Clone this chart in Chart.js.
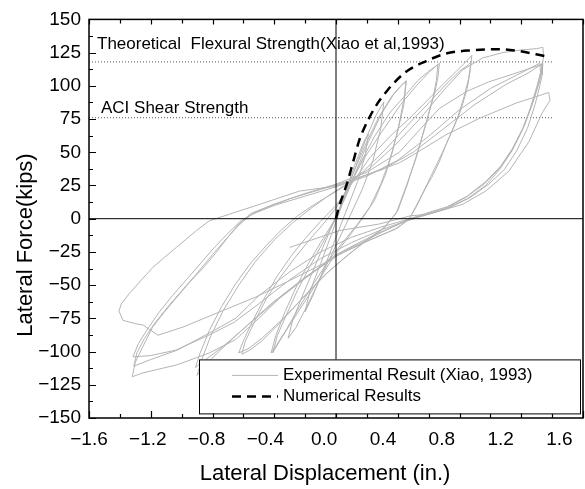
<!DOCTYPE html>
<html lang="en">
<head>
<meta charset="UTF-8" />
<title>Lateral Force vs Lateral Displacement</title>
<script src="https://cdn.jsdelivr.net/npm/chart.js@4"></script>
<style>
  body { margin: 0; background: #ffffff; }
  #chart { display: block; }
</style>
</head>
<body>
<canvas id="chart" width="585" height="489"></canvas>
<script>
  // ---- axis ticks ----
  const xTicks = [-1.6, -1.2, -0.8, -0.4, 0.0, 0.4, 0.8, 1.2, 1.6];
  const yTicks = [-150, -125, -100, -75, -50, -25, 0, 25, 50, 75, 100, 125, 150];

  // ---- strength reference lines (kips) ----
  const flexuralStrength = 118;
  const shearStrength = 76;
  const refLineDisp = [-1.6, 1.4];

  // ---- numerical results (dashed backbone) ----
  const numDisp = [0, 0.012, 0.076, 0.109, 0.152, 0.173, 0.249, 0.335, 0.454, 0.584, 0.713, 0.885, 1.037, 1.188, 1.35];
  const numForce = [0, 5.8, 28.3, 42, 59.5, 65.7, 83.1, 96.9, 110.6, 118.6, 124.3, 126.8, 127.6, 126.1, 122.5];

  // ---- experimental hysteresis (Xiao, 1993), [displacement, force] ----
  const cyclesSmall = [
    [0, 0], [0.06, 20], [0.12, 40], [0.18, 58], [0.21, 64],
    [0.19, 48], [0.14, 28], [0.08, 10], [0, -14], [-0.08, -38], [-0.15, -58], [-0.2, -70],
    [-0.17, -55], [-0.1, -34], [-0.03, -12], [0.05, 14], [0.13, 40], [0.2, 62], [0.26, 78], [0.31, 88],
    [0.29, 68], [0.24, 44], [0.17, 22], [0.09, 2], [0, -20], [-0.09, -42], [-0.18, -64], [-0.26, -82], [-0.31, -90],
    [-0.28, -76], [-0.21, -56], [-0.13, -34], [-0.05, -12], [0.03, 10], [0.11, 34], [0.2, 58], [0.28, 77], [0.36, 92], [0.42, 100], [0.455, 104]
  ];
  const cyclesA = [
    [0.44, 90], [0.41, 72], [0.37, 52], [0.32, 33], [0.25, 14], [0.17, 0], [0.08, -14], [0, -26], [-0.1, -44], [-0.2, -62], [-0.3, -80], [-0.37, -93], [-0.41, -101],
    [-0.38, -88], [-0.32, -72], [-0.25, -54], [-0.17, -36], [-0.09, -19], [-0.01, -2], [0.06, 16], [0.13, 36], [0.21, 58], [0.29, 78], [0.37, 93], [0.43, 101], [0.455, 103],
    [0.44, 86], [0.4, 66], [0.35, 45], [0.29, 26], [0.22, 9], [0.14, -4], [0.05, -17], [-0.04, -30], [-0.14, -48], [-0.24, -67], [-0.33, -85], [-0.39, -96], [-0.42, -101],
    [-0.39, -88], [-0.33, -70], [-0.26, -52], [-0.18, -34], [-0.1, -18], [-0.02, -3], [0.06, 16], [0.15, 40], [0.25, 62], [0.35, 80], [0.45, 93], [0.53, 104], [0.6, 111], [0.65, 115], [0.67, 117]
  ];
  const cyclesB = [
    [0.66, 106], [0.64, 95], [0.58, 71], [0.52, 46], [0.45, 23], [0.39, 4], [0.3, -8], [0.18, -18], [0.05, -30], [-0.08, -43], [-0.22, -60], [-0.36, -78], [-0.48, -92], [-0.56, -99], [-0.61, -102],
    [-0.59, -93], [-0.53, -78], [-0.45, -60], [-0.36, -44], [-0.27, -30], [-0.18, -17], [-0.09, -5], [0, 8], [0.08, 24], [0.18, 45], [0.3, 66], [0.42, 86], [0.52, 100], [0.6, 110], [0.66, 116],
    [0.65, 104], [0.63, 92], [0.58, 70], [0.52, 47], [0.46, 25], [0.4, 6], [0.32, -6], [0.2, -16], [0.08, -27], [-0.05, -40], [-0.2, -58], [-0.35, -76], [-0.48, -90], [-0.57, -98], [-0.63, -101],
    [-0.6, -92], [-0.54, -77], [-0.46, -59], [-0.38, -43], [-0.29, -28], [-0.2, -15], [-0.1, -2], [0, 10], [0.1, 26], [0.22, 46], [0.35, 62], [0.48, 76], [0.6, 90], [0.7, 102], [0.78, 111], [0.84, 118], [0.88, 123]
  ];
  const cyclesC = [
    [0.87, 112], [0.85, 98], [0.81, 82], [0.76, 68], [0.71, 55], [0.67, 43], [0.62, 31], [0.58, 23], [0.52, 9], [0.47, -1], [0.38, -8], [0.2, -17], [0, -28], [-0.2, -45], [-0.4, -63], [-0.58, -81], [-0.72, -95], [-0.82, -104], [-0.88, -109], [-0.91, -112],
    [-0.88, -101], [-0.82, -84], [-0.74, -66], [-0.65, -49], [-0.55, -33], [-0.45, -20], [-0.35, -8], [-0.25, 2], [-0.15, 10], [-0.05, 17], [0.05, 24], [0.18, 36], [0.32, 52], [0.46, 70], [0.6, 87], [0.72, 102], [0.8, 111], [0.86, 116], [0.875, 118],
    [0.86, 106], [0.83, 92], [0.79, 77], [0.74, 63], [0.69, 50], [0.64, 38], [0.59, 26], [0.53, 12], [0.48, 1], [0.4, -7], [0.22, -16], [0.02, -27], [-0.2, -44], [-0.42, -64], [-0.62, -85], [-0.76, -100], [-0.86, -112], [-0.9, -118],
    [-0.87, -106], [-0.81, -88], [-0.73, -69], [-0.63, -50], [-0.52, -32], [-0.4, -16], [-0.28, -3], [-0.16, 8], [-0.04, 18], [0.08, 27], [0.22, 38], [0.38, 55], [0.55, 76], [0.7, 97], [0.82, 112], [0.95, 121], [1.08, 125], [1.2, 127], [1.3, 128], [1.34, 129]
  ];
  const cyclesD = [
    [1.345, 122], [1.33, 112], [1.3, 99], [1.25, 80], [1.2, 65], [1.14, 51], [1.06, 37], [0.97, 25], [0.85, 15], [0.7, 7], [0.56, 2], [0.45, -2], [0.25, -12], [0.05, -24], [-0.15, -40], [-0.35, -58], [-0.5, -75], [-0.65, -91], [-0.82, -101], [-1.03, -110], [-1.25, -116], [-1.32, -119],
    [-1.3, -108], [-1.25, -96], [-1.19, -82], [-1.11, -70], [-1.03, -59], [-0.95, -48], [-0.86, -37], [-0.78, -26], [-0.7, -14], [-0.63, -4], [-0.55, 4], [-0.4, 11], [-0.2, 19], [0, 26], [0.2, 35], [0.41, 50], [0.55, 68], [0.67, 83], [0.85, 96], [0.99, 103], [1.15, 109], [1.33, 116],
    [1.335, 112], [1.32, 104], [1.28, 89], [1.22, 70], [1.15, 54], [1.07, 40], [0.97, 28], [0.85, 17], [0.72, 9], [0.58, 4], [0.48, 0], [0.3, -6], [0.1, -14], [-0.1, -25], [-0.3, -40], [-0.5, -58], [-0.65, -75], [-0.82, -86], [-1.03, -99], [-1.2, -106], [-1.31, -111],
    [-1.29, -101], [-1.24, -90], [-1.17, -78], [-1.08, -65], [-0.99, -53], [-0.9, -41], [-0.8, -27], [-0.71, -15], [-0.63, -5], [-0.55, 3], [-0.4, 10], [-0.2, 17], [0, 24], [0.2, 32], [0.4, 44], [0.6, 62], [0.8, 82], [1.0, 98], [1.17, 108], [1.32, 117],
    [1.325, 110], [1.31, 101], [1.27, 86], [1.21, 68], [1.14, 52], [1.06, 38], [0.96, 26], [0.84, 16], [0.71, 8], [0.57, 3], [0.47, -1], [0.3, -8], [0.1, -18], [-0.1, -30], [-0.3, -46], [-0.5, -64], [-0.66, -78], [-0.83, -88], [-1.04, -99], [-1.2, -103], [-1.315, -104],
    [-1.28, -94], [-1.22, -83], [-1.15, -71], [-1.06, -58], [-0.97, -46], [-0.88, -34], [-0.79, -22], [-0.7, -11], [-0.62, -2], [-0.5, 6], [-0.3, 15], [-0.1, 22], [0.1, 29], [0.3, 37], [0.5, 50], [0.7, 68], [0.9, 86], [1.1, 101], [1.25, 110], [1.34, 117]
  ];
  const cyclesE = [
    [1.335, 108], [1.32, 100], [1.29, 86], [1.24, 68], [1.17, 51], [1.09, 37], [0.99, 26], [0.87, 16], [0.73, 8], [0.59, 3], [0.48, 0], [0.3, -10], [0.15, -19], [0, -27], [-0.085, -34], [-0.3, -46.5], [-0.52, -59], [-0.73, -69], [-0.99, -81.5], [-1.153, -87.7], [-1.25, -80], [-1.3, -79], [-1.38, -76.5], [-1.406, -69.5],
    [-1.39, -64], [-1.34, -56.5], [-1.26, -46], [-1.186, -36.6], [-1.11, -29], [-1.034, -21.6], [-0.905, -9], [-0.82, -1.6], [-0.69, 3.4], [-0.495, 10.8], [-0.236, 20.8], [0, 24.5], [0.195, 33], [0.41, 42], [0.5, 48], [0.71, 63], [0.93, 75.6], [1.166, 87], [1.3, 92], [1.378, 95],
    [1.386, 89], [1.34, 80.6], [1.3, 70.7], [1.25, 58], [1.12, 35.8], [0.97, 20.8], [0.82, 10.8], [0.6, 3.4], [0.48, 2.1], [0.28, -4], [0.02, -9], [-0.3, -21.6]
  ];

  const legendLabels = ["Experimental Result (Xiao, 1993)", "Numerical Results"];
  const flexuralLabel = "Theoretical  Flexural Strength(Xiao et al,1993)";
  const shearLabel = "ACI Shear Strength";
  const xTitle = "Lateral Displacement (in.)";
  const yTitle = "Lateral Force(kips)";

  const GRAY = "rgb(180,180,180)";
  const FONT = "'Liberation Sans', Arial, sans-serif";
  const minus = (s) => s.replace("-", "\u2212");

  const expPoints = [cyclesSmall, cyclesA, cyclesB, cyclesC, cyclesD, cyclesE]
    .flat()
    .map(([x, y]) => ({ x, y }));
  const numPoints = numDisp.map((x, i) => ({ x, y: numForce[i] }));

  // extra drawing: frame, inward ticks, x labels, titles, notes, legend
  const figurePlugin = {
    id: "figureDecor",
    afterDraw(chart) {
      const { ctx, chartArea: a, scales } = chart;
      const x = scales.x, y = scales.y;
      ctx.save();

      // inward tick marks
      ctx.strokeStyle = "#000";
      ctx.lineWidth = 1.2;
      ctx.beginPath();
      xTicks.forEach((v, i) => {
        const px = Math.round(x.getPixelForValue(v)) + 0.5;
        ctx.moveTo(px, a.bottom); ctx.lineTo(px, a.bottom - 7);
        ctx.moveTo(px, a.top); ctx.lineTo(px, a.top + 5);
        if (i < xTicks.length - 1) {
          const m = Math.round(x.getPixelForValue((v + xTicks[i + 1]) / 2)) + 0.5;
          ctx.moveTo(m, a.bottom); ctx.lineTo(m, a.bottom - 4);
          ctx.moveTo(m, a.top); ctx.lineTo(m, a.top + 4);
        }
      });
      yTicks.forEach((v, i) => {
        const py = Math.round(y.getPixelForValue(v)) + 0.5;
        ctx.moveTo(a.left, py); ctx.lineTo(a.left + 7, py);
        if (i < yTicks.length - 1) {
          const m = Math.round(y.getPixelForValue((v + yTicks[i + 1]) / 2)) + 0.5;
          ctx.moveTo(a.left, m); ctx.lineTo(a.left + 4, m);
        }
      });
      ctx.stroke();

      // frame
      ctx.lineWidth = 1.5;
      ctx.strokeRect(a.left, a.top, a.right - a.left, a.bottom - a.top);

      // x tick labels (in the source figure they drift slightly left of their ticks)
      ctx.fillStyle = "#000";
      ctx.font = "19px " + FONT;
      ctx.textAlign = "center";
      ctx.textBaseline = "alphabetic";
      xTicks.forEach((v, i) => {
        ctx.fillText(minus(v.toFixed(1)), x.getPixelForValue(v) - i * 2.95, a.bottom + 27);
      });

      // axis titles
      ctx.font = "22px " + FONT;
      ctx.fillText(xTitle, 325, 480);
      ctx.save();
      ctx.translate(32, 245);
      ctx.rotate(-Math.PI / 2);
      ctx.fillText(yTitle, 0, 0);
      ctx.restore();

      // strength notes
      ctx.font = "17px " + FONT;
      ctx.textAlign = "left";
      ctx.fillText(flexuralLabel, a.left + 8, y.getPixelForValue(flexuralStrength) - 12.5);
      ctx.fillText(shearLabel, a.left + 12, y.getPixelForValue(shearStrength) - 4.5);

      // legend box over the plot
      const lx = a.left + 110, ly = a.top + 340, lw = a.right - 3 - lx, lh = 54;
      ctx.fillStyle = "#fff";
      ctx.fillRect(lx, ly, lw, lh);
      ctx.lineWidth = 1;
      ctx.strokeStyle = "#000";
      ctx.strokeRect(lx + 0.5, ly + 0.5, lw, lh);
      ctx.strokeStyle = GRAY;
      ctx.beginPath();
      ctx.moveTo(lx + 33, ly + 16); ctx.lineTo(lx + 79, ly + 16);
      ctx.stroke();
      ctx.strokeStyle = "#000";
      ctx.lineWidth = 2.5;
      ctx.setLineDash([9, 6]);
      ctx.beginPath();
      ctx.moveTo(lx + 33, ly + 37); ctx.lineTo(lx + 79, ly + 37);
      ctx.stroke();
      ctx.setLineDash([]);
      ctx.fillStyle = "#000";
      ctx.textBaseline = "middle";
      ctx.fillText(legendLabels[0], lx + 84, ly + 16);
      ctx.fillText(legendLabels[1], lx + 84, ly + 37);

      ctx.restore();
    }
  };

  new Chart(document.getElementById("chart"), {
    type: "scatter",
    data: {
      datasets: [
        {
          label: legendLabels[1],
          data: numPoints,
          showLine: true,
          borderColor: "#000",
          borderWidth: 2.5,
          borderDash: [9, 6],
          cubicInterpolationMode: "monotone",
          pointRadius: 0,
        },
        {
          label: "zero force",
          data: [{ x: xTicks[0], y: 0 }, { x: xTicks[xTicks.length - 1], y: 0 }],
          showLine: true,
          borderColor: "#000",
          borderWidth: 1,
          pointRadius: 0,
        },
        {
          label: "zero displacement",
          data: [{ x: 0, y: yTicks[0] }, { x: 0, y: yTicks[yTicks.length - 1] }],
          showLine: true,
          borderColor: "#000",
          borderWidth: 1,
          pointRadius: 0,
        },
        {
          label: legendLabels[0],
          data: expPoints,
          showLine: true,
          borderColor: GRAY,
          borderWidth: 1,
          pointRadius: 0,
        },
        {
          label: "flexural",
          data: refLineDisp.map((x) => ({ x, y: flexuralStrength })),
          showLine: true,
          borderColor: "#555",
          borderWidth: 1,
          borderDash: [1, 2],
          pointRadius: 0,
        },
        {
          label: "shear",
          data: refLineDisp.map((x) => ({ x, y: shearStrength })),
          showLine: true,
          borderColor: "#555",
          borderWidth: 1,
          borderDash: [1, 2],
          pointRadius: 0,
        },
      ],
    },
    options: {
      responsive: false,
      animation: false,
      layout: { padding: { top: 17, right: 2, left: 0, bottom: 0 } },
      plugins: {
        legend: { display: false },
        tooltip: { enabled: false },
      },
      scales: {
        x: {
          type: "linear",
          min: xTicks[0],
          max: xTicks[xTicks.length - 1],
          afterBuildTicks: (s) => { s.ticks = xTicks.map((v) => ({ value: v })); },
          afterFit: (s) => { s.height = 71; },
          grid: { display: false, drawTicks: false },
          border: { display: false },
          ticks: { display: false },
        },
        y: {
          type: "linear",
          min: yTicks[0],
          max: yTicks[yTicks.length - 1],
          afterBuildTicks: (s) => { s.ticks = yTicks.map((v) => ({ value: v })); },
          afterFit: (s) => { s.width = 89; },
          grid: { display: false, drawTicks: false },
          border: { display: false },
          ticks: {
            padding: 8,
            color: "#000",
            font: { family: FONT, size: 19 },
            callback: (v) => minus(String(v)),
          },
        },
      },
    },
    plugins: [figurePlugin],
  });
</script>
</body>
</html>
